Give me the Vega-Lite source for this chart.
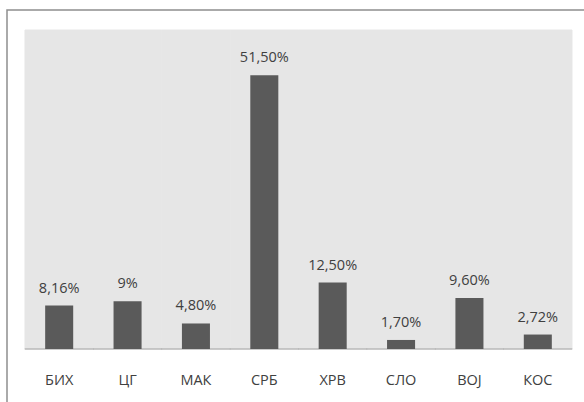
{
  "$schema": "https://vega.github.io/schema/vega-lite/v6.json",
  "width": 582,
  "height": 397,
  "autosize": {"type": "none"},
  "padding": {"left": 7, "top": 10, "right": -5, "bottom": -5},
  "background": "#ffffff",
  "config": {
    "view": {"fill": "#ffffff", "stroke": "#8f8f8f", "strokeWidth": 1.5},
    "font": "Open Sans"
  },
  "data": {
    "values": [
      {"region": "БИХ", "value": 8.16, "label": "8,16%"},
      {"region": "ЦГ", "value": 9, "label": "9%"},
      {"region": "МАК", "value": 4.8, "label": "4,80%"},
      {"region": "СРБ", "value": 51.5, "label": "51,50%"},
      {"region": "ХРВ", "value": 12.5, "label": "12,50%"},
      {"region": "СЛО", "value": 1.7, "label": "1,70%"},
      {"region": "ВОЈ", "value": 9.6, "label": "9,60%"},
      {"region": "КОС", "value": 2.72, "label": "2,72%"}
    ]
  },
  "encoding": {
    "x": {
      "field": "region",
      "type": "nominal",
      "sort": null,
      "scale": {"paddingInner": 0.59, "paddingOuter": 0.55095, "align": 0.5066},
      "axis": {
        "title": null,
        "orient": "bottom",
        "offset": -58,
        "labelAngle": 0,
        "ticks": false,
        "domain": false,
        "grid": false,
        "labelPadding": 24,
        "labelFont": "Open Sans",
        "labelFontSize": 14.5,
        "labelColor": "#404040"
      }
    }
  },
  "layer": [
    {
      "mark": {"type": "bar", "color": "#e6e6e6", "stroke": "#e6e6e6", "strokeWidth": 1, "width": {"band": 2.439}},
      "encoding": {
        "y": {"datum": 60, "type": "quantitative", "scale": {"domain": [-10.909, 63.762], "nice": false, "zero": false}, "axis": null},
        "y2": {"datum": 0}
      }
    },
    {
      "mark": {"type": "tick", "color": "#a6a6a6", "thickness": 1.5, "size": 69, "orient": "horizontal"},
      "encoding": {
        "y": {"datum": 0, "type": "quantitative"}
      }
    },
    {
      "mark": {"type": "bar", "color": "#5a5a5a"},
      "encoding": {
        "y": {"field": "value", "type": "quantitative"}
      }
    },
    {
      "mark": {"type": "text", "baseline": "bottom", "dy": -10, "fontSize": 14.5, "font": "Open Sans", "color": "#404040"},
      "encoding": {
        "y": {"field": "value", "type": "quantitative"},
        "text": {"field": "label"}
      }
    }
  ]
}
